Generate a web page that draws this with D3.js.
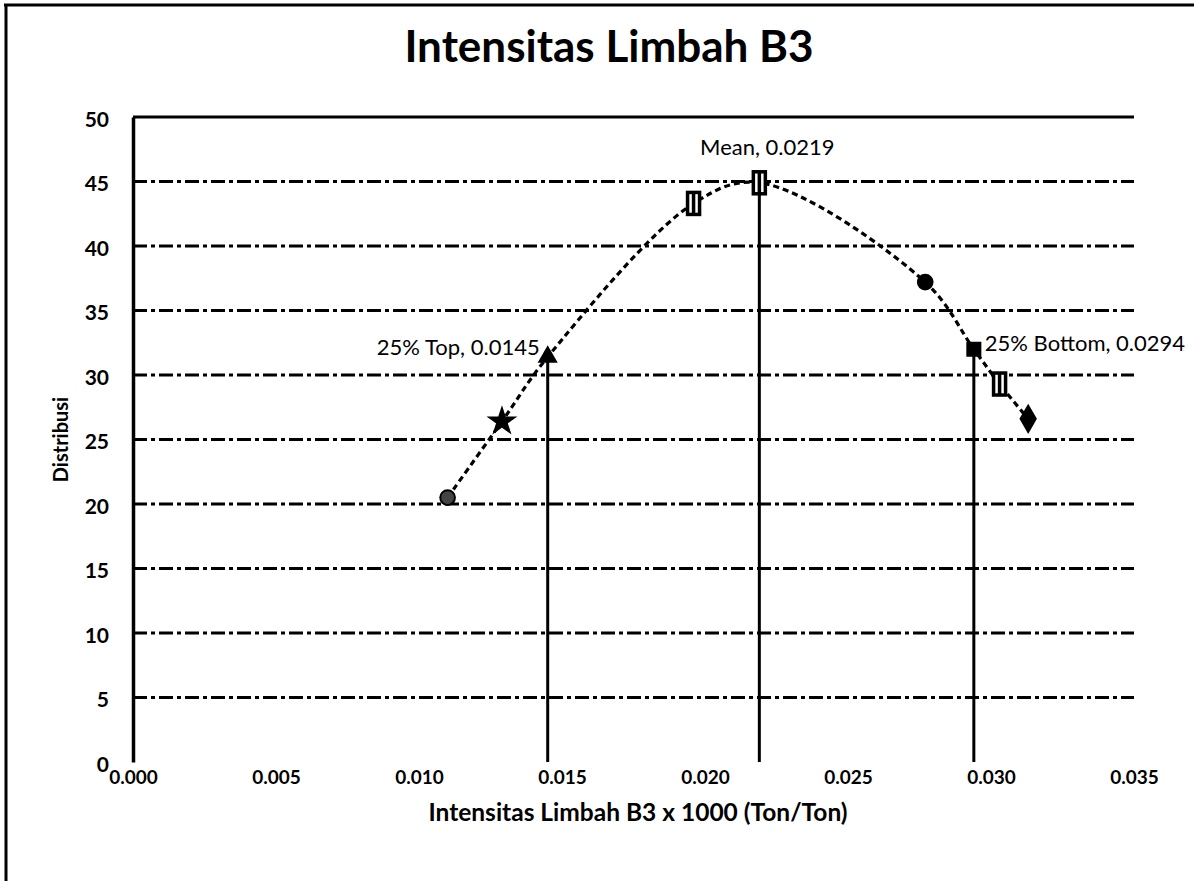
<!DOCTYPE html>
<html>
<head>
<meta charset="utf-8">
<script src="https://cdn.jsdelivr.net/npm/d3@7"></script>
<style>
  html, body { margin: 0; padding: 0; background: #fff; }
  svg { display: block; font-family: Lato, "Open Sans", sans-serif; }
</style>
</head>
<body>
<svg id="chart" width="1194" height="881"></svg>
<script>
// ---- data ----
const chartTitle = "Intensitas Limbah B3";
const xTitle = "Intensitas Limbah B3 x 1000 (Ton/Ton)";
const yTitle = "Distribusi";
const xTicks = [0.000, 0.005, 0.010, 0.015, 0.020, 0.025, 0.030, 0.035];
const yTicks = [0, 5, 10, 15, 20, 25, 30, 35, 40, 45, 50];
const pointX = [0.0110, 0.0129, 0.0145, 0.0196, 0.0219, 0.0277, 0.0294, 0.0303, 0.0313];
const pointY = [20.5, 26.4, 31.4, 43.3, 44.9, 37.2, 32.0, 29.3, 26.6];
const pointShape = ["circle", "star", "triangle", "bar", "bar", "circle", "square", "bar", "diamond"];
const markerLabels = ["25% Top, 0.0145", "Mean, 0.0219", "25% Bottom, 0.0294"];
const markerX = [0.0145, 0.0219, 0.0294];
const markerY = [31.4, 44.9, 32.0];

// ---- layout ----
const svg = d3.select("#chart");
const x = d3.scaleLinear().domain([0, 0.035]).range([133, 1134]);
const y = d3.scaleLinear().domain([0, 50]).range([762, 117]);

// outer frame (left and top edges visible)
svg.append("line").attr("x1", 6).attr("x2", 6).attr("y1", 4).attr("y2", 881)
  .attr("stroke", "#000").attr("stroke-width", 3);
svg.append("line").attr("x1", 4).attr("x2", 1194).attr("y1", 5).attr("y2", 5)
  .attr("stroke", "#000").attr("stroke-width", 3);

// title
svg.append("text").attr("x", 609).attr("y", 62).attr("text-anchor", "middle")
  .attr("font-size", 44).attr("font-weight", "bold").attr("fill", "#000").text(chartTitle);

// gridlines
svg.append("g").selectAll("line").data(yTicks.filter(d => d > 0)).join("line")
  .attr("x1", x(0)).attr("x2", x(0.035)).attr("y1", d => y(d)).attr("y2", d => y(d))
  .attr("stroke", "#000").attr("stroke-width", 2.8)
  .attr("stroke-dasharray", d => d === 50 ? null : "14 4 4 4");

// y axis
const yAxis = d3.axisLeft(y).tickValues(yTicks).tickSize(0).tickPadding(24).tickFormat(d3.format("d"));
const gy = svg.append("g").attr("transform", `translate(${x(0)},0)`).call(yAxis);
gy.select(".domain").attr("stroke", "#000").attr("stroke-width", 3.5);
gy.selectAll("text").attr("font-size", 21).attr("font-weight", "bold")
  .attr("font-family", "Lato, sans-serif").attr("fill", "#000").attr("dy", "0.45em");

// x axis (labels only)
const xAxis = d3.axisBottom(x).tickValues(xTicks).tickSize(0).tickPadding(9).tickFormat(d3.format(".3f"));
const gx = svg.append("g").attr("transform", `translate(0,${y(0)})`).call(xAxis);
gx.select(".domain").remove();
gx.selectAll("text").attr("font-size", 19).attr("font-weight", "bold")
  .attr("font-family", "Lato, sans-serif").attr("fill", "#000");

// axis titles
svg.append("text").attr("transform", `translate(68,${y(25)}) rotate(-90)`)
  .attr("text-anchor", "middle").attr("font-size", 20).attr("font-weight", "bold").text(yTitle);
svg.append("text").attr("x", 638).attr("y", 821).attr("text-anchor", "middle")
  .attr("font-size", 24.5).attr("font-weight", "bold").text(xTitle);

// vertical marker lines
svg.append("g").selectAll("line").data(markerX).join("line")
  .attr("x1", d => x(d)).attr("x2", d => x(d))
  .attr("y1", y(0)).attr("y2", (d, i) => y(markerY[i]))
  .attr("stroke", "#000").attr("stroke-width", 3);

// dashed smoothed curve
const pts = pointX.map((d, i) => [x(d), y(pointY[i])]);
svg.append("path").attr("d", d3.line().curve(d3.curveCatmullRom.alpha(0.5))(pts))
  .attr("fill", "none").attr("stroke", "#000").attr("stroke-width", 3.2)
  .attr("stroke-dasharray", "6 4");

// markers
const symMap = {
  circle: d3.symbolCircle, star: d3.symbolStar, triangle: d3.symbolTriangle,
  square: d3.symbolSquare, diamond: d3.symbolDiamond
};
const mg = svg.append("g");
pts.forEach((p, i) => {
  const s = pointShape[i];
  if (s === "bar") {
    mg.append("rect").attr("x", p[0] - 6).attr("y", p[1] - 11).attr("width", 12).attr("height", 22)
      .attr("fill", "#fff").attr("stroke", "#000").attr("stroke-width", 3.5);
    mg.append("line").attr("x1", p[0]).attr("x2", p[0]).attr("y1", p[1] - 11).attr("y2", p[1] + 11)
      .attr("stroke", "#000").attr("stroke-width", 3.5);
  } else {
    const size = s === "star" ? 190 : s === "triangle" ? 120 : s === "diamond" ? 200 : 170;
    mg.append("path").attr("transform", `translate(${p[0]},${p[1]})`)
      .attr("d", d3.symbol().type(symMap[s]).size(size)())
      .attr("fill", s === "circle" && i === 0 ? "#444" : "#000").attr("stroke", "#000").attr("stroke-width", 2);
  }
});

// annotation labels
const lab = svg.append("g").attr("font-size", 22).attr("fill", "#000");
lab.append("text").attr("x", x(markerX[0]) - 8).attr("y", y(markerY[0]) - 2)
  .attr("text-anchor", "end").text(markerLabels[0]);
lab.append("text").attr("x", x(markerX[1]) + 8).attr("y", y(markerY[1]) - 28)
  .attr("text-anchor", "middle").text(markerLabels[1]);
lab.append("text").attr("x", x(markerX[2]) + 11).attr("y", y(markerY[2]) + 2)
  .attr("text-anchor", "start").text(markerLabels[2]);
</script>
</body>
</html>
